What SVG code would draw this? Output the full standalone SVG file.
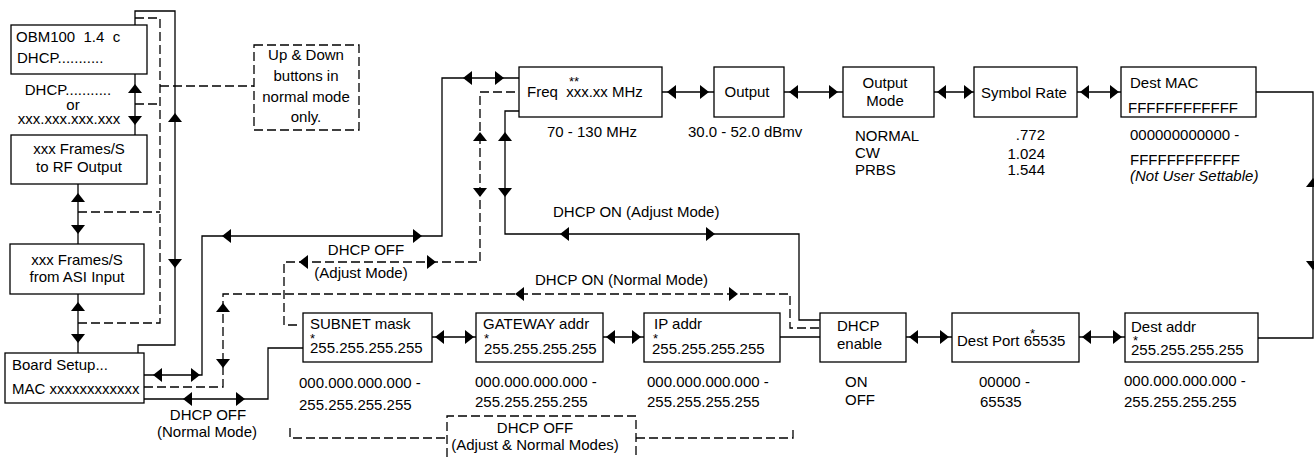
<svg xmlns="http://www.w3.org/2000/svg" xmlns:xlink="http://www.w3.org/1999/xlink" width="1314" height="457" viewBox="0 0 1314 457">
<style>
text{font-family:"Liberation Sans",Arial,sans-serif;font-size:15px;fill:#000;white-space:pre}
.c{text-anchor:middle}
.e{text-anchor:end}
.i{font-style:italic}
.s{font-size:13px}
.box{fill:#fff;stroke:#000;stroke-width:1.3}
.dbox{fill:none;stroke:#000;stroke-width:1.3;stroke-dasharray:9 4}
.ln{fill:none;stroke:#000;stroke-width:1.3}
.dl{fill:none;stroke:#000;stroke-width:1.3;stroke-dasharray:9 4}
</style>
<defs>
<path id="ah" d="M0,0 L-9,-7 L-9,7 Z" fill="#000"/>
</defs>
<rect width="1314" height="457" fill="#fff"/>

<g id="connectors">
<path class="ln" d="M135,74 V135"/>
<path class="ln" d="M78,184 V244"/>
<path class="ln" d="M78,294 V353"/>
<path class="dl" d="M135,18 H160 V323 H78"/>
<path class="dl" d="M135,104 H160"/>
<path class="dl" d="M78,212 H160"/>
<path class="dl" d="M160,86 H254"/>
<path class="ln" d="M138,353 V345 H175 V11 H135 V25"/>
<path class="ln" d="M144,375 H202 V236 H442 V78 H519"/>
<path class="dl" d="M144,387 H223 V294 H790 V328 H820"/>
<path class="ln" d="M144,399 H268 V348 H303"/>
<path class="dl" d="M297,325 H284 V262 H480 V92 H519"/>
<path class="ln" d="M519,111 H505 V234 H799 V320 H820"/>
<path class="ln" d="M780,337 H820"/>
<path class="ln" d="M662,92 H714"/>
<path class="ln" d="M784,92 H843"/>
<path class="ln" d="M934,92 H974"/>
<path class="ln" d="M1077,92 H1121"/>
<path class="ln" d="M1256,92 H1313 V338 H1258"/>
<path class="ln" d="M432,337 H476"/>
<path class="ln" d="M603,337 H644"/>
<path class="ln" d="M906,337 H952"/>
<path class="ln" d="M1079,337 H1125"/>
<path class="dl" d="M290,428 V438 H447"/>
<path class="dl" d="M447,457 V416 H636 V457"/>
<path class="dl" d="M636,438 H793 V428"/>

<use xlink:href="#ah" transform="translate(135,84) rotate(-90)"/>
<use xlink:href="#ah" transform="translate(135,125) rotate(90)"/>
<use xlink:href="#ah" transform="translate(78,193) rotate(-90)"/>
<use xlink:href="#ah" transform="translate(78,234) rotate(90)"/>
<use xlink:href="#ah" transform="translate(78,302) rotate(-90)"/>
<use xlink:href="#ah" transform="translate(78,343) rotate(90)"/>
<use xlink:href="#ah" transform="translate(175,113) rotate(-90)"/>
<use xlink:href="#ah" transform="translate(175,268) rotate(90)"/>
<use xlink:href="#ah" transform="translate(153,375) rotate(180)"/>
<use xlink:href="#ah" transform="translate(200,375)"/>
<use xlink:href="#ah" transform="translate(222,236) rotate(180)"/>
<use xlink:href="#ah" transform="translate(422,236)"/>
<use xlink:href="#ah" transform="translate(463,78) rotate(180)"/>
<use xlink:href="#ah" transform="translate(504,78)"/>
<use xlink:href="#ah" transform="translate(223,303) rotate(-90)"/>
<use xlink:href="#ah" transform="translate(223,368) rotate(90)"/>
<use xlink:href="#ah" transform="translate(515,294) rotate(180)"/>
<use xlink:href="#ah" transform="translate(738,294)"/>
<use xlink:href="#ah" transform="translate(183,399) rotate(180)"/>
<use xlink:href="#ah" transform="translate(245,399)"/>
<use xlink:href="#ah" transform="translate(299,262) rotate(180)"/>
<use xlink:href="#ah" transform="translate(436,262)"/>
<use xlink:href="#ah" transform="translate(480,132) rotate(-90)"/>
<use xlink:href="#ah" transform="translate(480,197) rotate(90)"/>
<use xlink:href="#ah" transform="translate(505,132) rotate(-90)"/>
<use xlink:href="#ah" transform="translate(505,197) rotate(90)"/>
<use xlink:href="#ah" transform="translate(560,234) rotate(180)"/>
<use xlink:href="#ah" transform="translate(715,234)"/>
<use xlink:href="#ah" transform="translate(667,92) rotate(180)"/>
<use xlink:href="#ah" transform="translate(709,92)"/>
<use xlink:href="#ah" transform="translate(789,92) rotate(180)"/>
<use xlink:href="#ah" transform="translate(838,92)"/>
<use xlink:href="#ah" transform="translate(937,92) rotate(180)"/>
<use xlink:href="#ah" transform="translate(973,92)"/>
<use xlink:href="#ah" transform="translate(1080,92) rotate(180)"/>
<use xlink:href="#ah" transform="translate(1119,92)"/>
<use xlink:href="#ah" transform="translate(1313,178) rotate(-90)"/>
<use xlink:href="#ah" transform="translate(1313,270) rotate(90)"/>
<use xlink:href="#ah" transform="translate(435,337) rotate(180)"/>
<use xlink:href="#ah" transform="translate(474,337)"/>
<use xlink:href="#ah" transform="translate(606,337) rotate(180)"/>
<use xlink:href="#ah" transform="translate(641,337)"/>
<use xlink:href="#ah" transform="translate(909,337) rotate(180)"/>
<use xlink:href="#ah" transform="translate(949,337)"/>
<use xlink:href="#ah" transform="translate(1082,337) rotate(180)"/>
<use xlink:href="#ah" transform="translate(1122,337)"/>

<text x="68" y="95" class="c">DHCP...........</text>
<text x="73" y="110" class="c">or</text>
<text x="69" y="124" class="c">xxx.xxx.xxx.xxx</text>
<text x="208" y="420" class="c">DHCP OFF</text>
<text x="207" y="437" class="c">(Normal Mode)</text>
<text x="366" y="255" class="c">DHCP OFF</text>
<text x="361" y="278" class="c">(Adjust Mode)</text>
<text x="553" y="217">DHCP ON (Adjust Mode)</text>
<text x="535" y="285">DHCP ON (Normal Mode)</text>
<text x="535" y="433" class="c">DHCP OFF</text>
<text x="535" y="450" class="c">(Adjust &amp; Normal Modes)</text>
</g>

<g id="note">
<rect class="dbox" x="254" y="45" width="105" height="85"/>
<text x="306" y="60" class="c">Up &amp; Down</text>
<text x="306" y="81" class="c">buttons in</text>
<text x="306" y="102" class="c">normal mode</text>
<text x="306" y="122" class="c">only.</text>
</g>

<g id="obm">
<rect class="box" x="11" y="25" width="136" height="49"/>
<text x="16" y="42">OBM100  1.4  c</text>
<text x="17" y="63">DHCP...........</text>
</g>
<g id="rf-output">
<rect class="box" x="11" y="135" width="136" height="49"/>
<text x="79" y="154" class="c">xxx Frames/S</text>
<text x="79" y="172" class="c">to RF Output</text>
</g>
<g id="asi-input">
<rect class="box" x="10" y="244" width="134" height="50"/>
<text x="77" y="265" class="c">xxx Frames/S</text>
<text x="77" y="282" class="c">from ASI Input</text>
</g>
<g id="board-setup">
<rect class="box" x="5" y="353" width="139" height="50"/>
<text x="12" y="370">Board Setup...</text>
<text x="12" y="394">MAC xxxxxxxxxxxx</text>
</g>

<g id="freq">
<rect class="box" x="519" y="67" width="143" height="50"/>
<text x="527" y="97"><tspan x="569" y="86" class="s">**</tspan><tspan x="527" y="97">Freq  xxx.xx MHz</tspan></text>
<text x="547" y="137">70 - 130 MHz</text>
</g>
<g id="output">
<rect class="box" x="714" y="67" width="70" height="50"/>
<text x="747" y="97" class="c">Output</text>
<text x="688" y="137">30.0 - 52.0 dBmv</text>
</g>
<g id="output-mode">
<rect class="box" x="843" y="67" width="91" height="50"/>
<text x="885" y="88" class="c">Output</text>
<text x="885" y="106" class="c">Mode</text>
<text x="855" y="141">NORMAL</text>
<text x="855" y="158">CW</text>
<text x="855" y="175">PRBS</text>
</g>
<g id="symbol-rate">
<rect class="box" x="974" y="67" width="103" height="50"/>
<text x="1024" y="98" class="c">Symbol Rate</text>
<text x="1045" y="140" class="e">.772</text>
<text x="1045" y="159" class="e">1.024</text>
<text x="1045" y="175" class="e">1.544</text>
</g>
<g id="dest-mac">
<rect class="box" x="1121" y="67" width="135" height="50"/>
<text x="1130" y="88">Dest MAC</text>
<text x="1128" y="113">FFFFFFFFFFFF</text>
<text x="1130" y="140">000000000000 -</text>
<text x="1130" y="165">FFFFFFFFFFFF</text>
<text x="1130" y="181" class="i">(Not User Settable)</text>
</g>

<g id="subnet">
<rect class="box" x="303" y="313" width="129" height="49"/>
<text x="310" y="329"><tspan x="310" y="329">SUBNET mask</tspan><tspan x="310" y="343" class="s">*</tspan><tspan x="310" y="353">255.255.255.255</tspan></text>
<text x="299" y="388">000.000.000.000 -</text>
<text x="299" y="410">255.255.255.255</text>
</g>
<g id="gateway">
<rect class="box" x="476" y="313" width="127" height="49"/>
<text x="483" y="329"><tspan x="483" y="329">GATEWAY addr</tspan><tspan x="484" y="343" class="s">*</tspan><tspan x="484" y="354">255.255.255.255</tspan></text>
<text x="475" y="387">000.000.000.000 -</text>
<text x="475" y="407">255.255.255.255</text>
</g>
<g id="ip">
<rect class="box" x="644" y="313" width="136" height="49"/>
<text x="654" y="329"><tspan x="654" y="329">IP addr</tspan><tspan x="653" y="343" class="s">*</tspan><tspan x="652" y="354">255.255.255.255</tspan></text>
<text x="647" y="387">000.000.000.000 -</text>
<text x="647" y="407">255.255.255.255</text>
</g>
<g id="dhcp-enable">
<rect class="box" x="820" y="313" width="86" height="49"/>
<text x="837" y="331">DHCP</text>
<text x="837" y="349">enable</text>
<text x="845" y="387">ON</text>
<text x="845" y="405">OFF</text>
</g>
<g id="dest-port">
<rect class="box" x="952" y="313" width="127" height="49"/>
<text x="957" y="346"><tspan x="1030" y="338" class="s">*</tspan><tspan x="957" y="346">Dest Port 65535</tspan></text>
<text x="979" y="387">00000 -</text>
<text x="980" y="407">65535</text>
</g>
<g id="dest-addr">
<rect class="box" x="1125" y="313" width="133" height="49"/>
<text x="1131" y="332"><tspan x="1131" y="332">Dest addr</tspan><tspan x="1133" y="345" class="s">*</tspan><tspan x="1131" y="355">255.255.255.255</tspan></text>
<text x="1124" y="386">000.000.000.000 -</text>
<text x="1124" y="407">255.255.255.255</text>
</g>
</svg>
